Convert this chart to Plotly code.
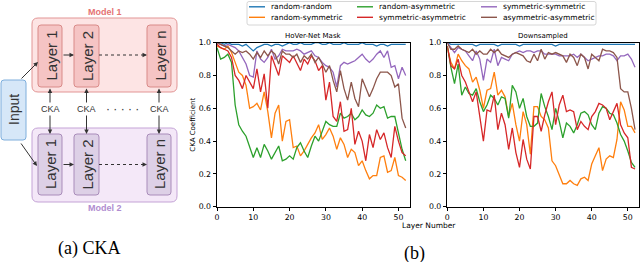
import plotly.graph_objects as go

W, H = 640, 262

# ---------------- data ----------------
layers = list(range(53))
x_ticks = [0, 10, 20, 30, 40, 50]
y_ticks = [0.0, 0.2, 0.4, 0.6, 0.8, 1.0]
series_names = ["random-random", "random-symmetric", "random-asymmetric",
                "symmetric-asymmetric", "symmetric-symmetric", "asymmetric-asymmetric"]
series_colors = ["#1f77b4", "#ff7f0e", "#2ca02c", "#d62728", "#9467bd", "#8c564b"]
panel_titles = ["HoVer-Net Mask", "Downsampled"]

# HoVer-Net Mask panel
mask_random_random = [1.0, 1.0, 0.99, 1.0, 0.99, 0.99, 0.99, 0.98, 0.99, 0.97, 0.95, 0.97, 0.98, 0.99,
                      0.99, 0.98, 0.99, 0.99, 0.98, 0.99, 1.0, 0.99, 0.99, 1.0, 0.99, 0.99, 0.99, 1.0,
                      1.0, 0.99, 0.99, 1.0, 0.99, 0.99, 0.99, 1.0, 0.99, 0.99, 0.99, 0.99, 1.0, 0.99,
                      0.99, 0.99, 0.98, 0.99, 0.99, 0.98, 0.99, 0.99, 0.99, 0.99, 0.99]
mask_random_symmetric = [0.98, 0.97, 0.96, 0.98, 0.94, 0.88, 0.82, 0.80, 0.74, 0.60, 0.61, 0.63, 0.59,
                         0.70, 0.58, 0.42, 0.57, 0.62, 0.40, 0.52, 0.53, 0.36, 0.37, 0.31, 0.34, 0.38,
                         0.42, 0.45, 0.50, 0.41, 0.44, 0.48, 0.43, 0.35, 0.42, 0.38, 0.30, 0.35, 0.33,
                         0.25, 0.28, 0.22, 0.17, 0.19, 0.19, 0.30, 0.31, 0.21, 0.22, 0.30, 0.19, 0.18, 0.16]
mask_random_asymmetric = [0.97, 0.90, 0.91, 0.93, 0.88, 0.62, 0.50, 0.46, 0.43, 0.37, 0.30, 0.36, 0.30,
                          0.38, 0.34, 0.29, 0.33, 0.37, 0.28, 0.29, 0.31, 0.29, 0.36, 0.39, 0.34, 0.30,
                          0.37, 0.43, 0.40, 0.46, 0.52, 0.50, 0.49, 0.49, 0.57, 0.54, 0.55, 0.57, 0.53,
                          0.55, 0.59, 0.56, 0.55, 0.57, 0.62, 0.60, 0.61, 0.54, 0.55, 0.55, 0.44, 0.35, 0.28]
mask_symmetric_asymmetric = [0.99, 0.97, 0.96, 0.95, 0.91, 0.80, 0.77, 0.72, 0.80, 0.76, 0.72, 0.84, 0.70,
                             0.81, 0.60, 0.92, 0.86, 0.80, 0.92, 0.90, 0.88, 0.92, 0.87, 0.83, 0.90, 0.87,
                             0.92, 0.89, 0.83, 0.86, 0.65, 0.76, 0.55, 0.52, 0.64, 0.46, 0.47, 0.60, 0.38,
                             0.46, 0.40, 0.28, 0.44, 0.36, 0.47, 0.41, 0.45, 0.36, 0.30, 0.49, 0.40, 0.33, 0.31]
mask_symmetric_symmetric = [1.0, 0.99, 0.98, 0.99, 0.98, 0.97, 0.95, 0.91, 0.87, 0.80, 0.79, 0.95, 0.90,
                            0.88, 0.91, 0.96, 0.90, 0.92, 0.96, 0.95, 0.95, 0.95, 0.96, 0.95, 0.93, 0.94,
                            0.95, 0.92, 0.91, 0.88, 0.86, 0.85, 0.82, 0.73, 0.86, 0.88, 0.87, 0.88, 0.89,
                            0.91, 0.93, 0.90, 0.88, 0.90, 0.93, 0.95, 0.91, 0.95, 0.85, 0.86, 0.78, 0.85, 0.80]
mask_asymmetric_asymmetric = [1.0, 0.99, 0.98, 0.97, 0.95, 0.93, 0.95, 0.94, 0.95, 0.93, 0.90, 0.94, 0.91,
                              0.95, 0.92, 0.95, 0.93, 0.87, 0.95, 0.93, 0.93, 0.91, 0.93, 0.88, 0.92, 0.90,
                              0.93, 0.88, 0.91, 0.87, 0.82, 0.86, 0.77, 0.70, 0.83, 0.72, 0.65, 0.76, 0.66,
                              0.61, 0.78, 0.73, 0.67, 0.72, 0.78, 0.82, 0.82, 0.82, 0.80, 0.73, 0.75, 0.54, 0.48]

# Downsampled panel
down_random_random = [1.0, 0.99, 0.99, 0.99, 0.99, 0.99, 0.99, 0.99, 0.98, 0.99, 0.99, 0.99, 0.99, 0.99,
                      0.98, 0.99, 0.99, 0.99, 0.99, 0.99, 0.98, 0.99, 0.99, 0.99, 0.99, 0.99, 0.99, 0.99,
                      0.99, 0.99, 0.98, 0.99, 0.99, 0.99, 0.99, 0.99, 0.99, 0.99, 0.99, 0.99, 0.99, 0.99,
                      0.99, 0.99, 0.99, 0.99, 0.99, 0.99, 0.99, 0.99, 0.99, 0.99, 0.99]
down_random_symmetric = [0.97, 0.88, 0.84, 0.93, 0.89, 0.86, 0.84, 0.76, 0.79, 0.71, 0.60, 0.71, 0.72,
                         0.82, 0.68, 0.71, 0.67, 0.55, 0.63, 0.50, 0.40, 0.58, 0.50, 0.32, 0.61, 0.61,
                         0.55, 0.53, 0.48, 0.28, 0.25, 0.20, 0.14, 0.14, 0.16, 0.14, 0.13, 0.17, 0.18,
                         0.16, 0.26, 0.31, 0.36, 0.22, 0.29, 0.31, 0.30, 0.41, 0.64, 0.59, 0.49, 0.49, 0.45]
down_random_asymmetric = [0.98, 0.85, 0.75, 0.87, 0.68, 0.73, 0.69, 0.68, 0.72, 0.64, 0.58, 0.62, 0.68,
                          0.66, 0.62, 0.67, 0.66, 0.54, 0.74, 0.70, 0.60, 0.66, 0.55, 0.49, 0.49, 0.51,
                          0.69, 0.61, 0.55, 0.47, 0.60, 0.52, 0.42, 0.51, 0.49, 0.45, 0.50, 0.57, 0.58,
                          0.56, 0.50, 0.47, 0.57, 0.61, 0.60, 0.57, 0.56, 0.51, 0.44, 0.40, 0.34, 0.27, 0.24]
down_symmetric_asymmetric = [0.98, 0.86, 0.84, 0.90, 0.80, 0.76, 0.70, 0.64, 0.70, 0.55, 0.40, 0.59, 0.58,
                             0.68, 0.47, 0.57, 0.50, 0.35, 0.48, 0.33, 0.24, 0.41, 0.29, 0.23, 0.55, 0.55,
                             0.46, 0.56, 0.64, 0.70, 0.50, 0.62, 0.68, 0.58, 0.59, 0.58, 0.47, 0.52, 0.49,
                             0.47, 0.55, 0.58, 0.63, 0.62, 0.60, 0.53, 0.58, 0.63, 0.50, 0.45, 0.42, 0.24, 0.23]
down_symmetric_symmetric = [1.0, 0.97, 0.94, 0.97, 0.96, 0.95, 0.92, 0.89, 0.95, 0.90, 0.77, 0.90, 0.88,
                            0.96, 0.86, 0.91, 0.90, 0.89, 0.93, 0.94, 0.95, 0.94, 0.95, 0.95, 0.94, 0.95,
                            0.95, 0.93, 0.93, 0.93, 0.93, 0.92, 0.92, 0.92, 0.92, 0.93, 0.91, 0.93, 0.91,
                            0.89, 0.90, 0.91, 0.92, 0.92, 0.93, 0.93, 0.92, 0.89, 0.92, 0.92, 0.93, 0.90, 0.85]
down_asymmetric_asymmetric = [1.0, 0.96, 0.96, 0.98, 0.96, 0.95, 0.94, 0.96, 0.93, 0.95, 0.93, 0.93, 0.96,
                              0.94, 0.96, 0.93, 0.92, 0.91, 0.93, 0.94, 0.93, 0.92, 0.89, 0.88, 0.93, 0.89,
                              0.96, 0.90, 0.94, 0.93, 0.94, 0.93, 0.92, 0.88, 0.93, 0.91, 0.86, 0.93, 0.91,
                              0.84, 0.93, 0.91, 0.89, 0.96, 0.95, 0.95, 0.94, 0.91, 0.72, 0.70, 0.70, 0.60, 0.47]

mask_series = [mask_random_random, mask_random_symmetric, mask_random_asymmetric,
               mask_symmetric_asymmetric, mask_symmetric_symmetric, mask_asymmetric_asymmetric]
down_series = [down_random_random, down_random_symmetric, down_random_asymmetric,
               down_symmetric_asymmetric, down_symmetric_symmetric, down_asymmetric_asymmetric]

# diagram labels
model_labels = ["Model 1", "Model 2"]
layer_labels = ["Layer 1", "Layer 2", "Layer n"]
input_label = "Input"
cka_label = "CKA"
captions = ["(a) CKA", "(b)"]

# ---------------- helpers (pixel -> paper) ----------------
def X(px):
    return px / W

def Y(py):
    return 1 - py / H

def rrect(x0, y0, x1, y1, r, fill, line, lw=1.0):
    p = (f"M {X(x0 + r)},{Y(y0)} L {X(x1 - r)},{Y(y0)} Q {X(x1)},{Y(y0)} {X(x1)},{Y(y0 + r)} "
         f"L {X(x1)},{Y(y1 - r)} Q {X(x1)},{Y(y1)} {X(x1 - r)},{Y(y1)} "
         f"L {X(x0 + r)},{Y(y1)} Q {X(x0)},{Y(y1)} {X(x0)},{Y(y1 - r)} "
         f"L {X(x0)},{Y(y0 + r)} Q {X(x0)},{Y(y0)} {X(x0 + r)},{Y(y0)} Z")
    return dict(type="path", xref="paper", yref="paper", path=p, fillcolor=fill,
                line=dict(color=line, width=lw), layer="above")

def label(px, py, text, font, angle=0, xanchor="center", **kw):
    d = dict(x=X(px), y=Y(py), xref="paper", yref="paper", text=text, showarrow=False,
             xanchor=xanchor, yanchor="middle", textangle=angle, font=font)
    d.update(kw)
    return d

fig = go.Figure()

for si in range(6):
    fig.add_trace(go.Scatter(x=layers, y=mask_series[si], mode="lines", name=series_names[si],
                             line=dict(color=series_colors[si], width=1.3), showlegend=False,
                             xaxis="x", yaxis="y"))
for si in range(6):
    fig.add_trace(go.Scatter(x=layers, y=down_series[si], mode="lines", name=series_names[si],
                             line=dict(color=series_colors[si], width=1.3), showlegend=False,
                             xaxis="x2", yaxis="y2"))

tickfont = dict(family="DejaVu Sans", size=7.8, color="black")
axis_common = dict(showline=True, mirror=True, linecolor="black", linewidth=0.8, ticks="outside",
                   ticklen=3.5, tickwidth=0.8, tickcolor="black", showgrid=False, zeroline=False,
                   tickfont=tickfont, automargin=False)
ydom = [Y(206.7), Y(42.7)]
fig.update_layout(
    width=W, height=H, margin=dict(l=0, r=0, t=0, b=0),
    paper_bgcolor="white", plot_bgcolor="white",
    xaxis=dict(domain=[X(217), X(409.7)], range=[0, 53.1], tickvals=x_ticks, **axis_common),
    yaxis=dict(domain=ydom, range=[0, 1.0], tickvals=y_ticks, tickformat=".1f", **axis_common),
    xaxis2=dict(domain=[X(447.3), X(639)], range=[0, 53.1], tickvals=x_ticks, anchor="y2", **axis_common),
    yaxis2=dict(domain=ydom, range=[0, 1.0], tickvals=y_ticks, tickformat=".1f", anchor="x2", **axis_common),
)

shapes = []
ann = []
txt = dict(family="DejaVu Sans", size=7.5, color="black")
small = dict(family="DejaVu Sans", size=7, color="black")

# panel titles and axis labels
ann.append(label(313.5, 36, panel_titles[0], small))
ann.append(label(543, 36, panel_titles[1], small))
ann.append(label(428.5, 225, "Layer Number", txt))
ann.append(label(193, 124.7, "CKA Coefficient", small, angle=-90))

# manual legend (matplotlib style, 3 columns)
shapes.append(rrect(247, 1.5, 596, 25, 2, "white", "#cccccc", 0.8))
col_line_x = [(249, 265), (357, 373), (481, 497)]
col_text_x = [269, 377, 501]
row_y = [6.8, 17.3]
for si in range(6):
    c, r = si // 2, si % 2
    shapes.append(dict(type="line", xref="paper", yref="paper", x0=X(col_line_x[c][0]), x1=X(col_line_x[c][1]),
                       y0=Y(row_y[r]), y1=Y(row_y[r]), line=dict(color=series_colors[si], width=1.4)))
    ann.append(label(col_text_x[c], row_y[r], series_names[si], txt, xanchor="left"))

# ---------------- diagram (a) ----------------
dfont = "Liberation Sans"
shapes.append(rrect(32, 18, 177, 92, 6, "#fde4e4", "#e29595", 1))
shapes.append(rrect(32, 128, 177, 202, 6, "#f4e8f8", "#c4a3d6", 1))
layer_x = [(38, 62), (74, 99), (147, 171)]
lfont = dict(family=dfont, size=15, color="#333333")
for (a, b), lab in zip(layer_x, layer_labels):
    shapes.append(rrect(a, 25, b, 87, 3, "#f5c4c4", "#d98a88", 1))
    shapes.append(rrect(a, 134, b, 195, 3, "#ddd0e6", "#a98cba", 1))
    for yc in (56, 164.5):
        ann.append(label((a + b) / 2 + 0.5, yc, lab, lfont, angle=-90))
shapes.append(rrect(1, 80, 26, 140, 3, "#d6e7f8", "#7eaedc", 1))
ann.append(label(14, 110, input_label, dict(family=dfont, size=14, color="#333333"), angle=-90))
ann.append(label(105, 12, "<b>" + model_labels[0] + "</b>", dict(family=dfont, size=9, color="#e57373")))
ann.append(label(105, 208, "<b>" + model_labels[1] + "</b>", dict(family=dfont, size=9, color="#b08cd0")))

arrow_col = "#333333"
def arrow(x0, y0, x1, y1, both=False):
    ann.append(dict(x=X(x1), y=Y(y1), ax=x0 - x1, ay=y0 - y1, xref="paper", yref="paper",
                    axref="pixel", ayref="pixel", text="", showarrow=True, arrowhead=2,
                    arrowsize=0.9, arrowwidth=1, arrowcolor=arrow_col, standoff=0, startstandoff=0,
                    arrowside="end+start" if both else "end", startarrowhead=2, startarrowsize=0.9))

arrow(20, 80, 38, 62)
arrow(20, 142, 37, 166)
arrow(62, 55, 74, 55)
arrow(62, 164.5, 74, 164.5)
for yy in (55, 164.5):
    shapes.append(dict(type="line", xref="paper", yref="paper", x0=X(99), x1=X(144), y0=Y(yy), y1=Y(yy),
                       line=dict(color=arrow_col, width=1, dash="dot")))
    arrow(143, yy, 147, yy)
for (a, b) in layer_x:
    xc = (a + b) / 2
    arrow(xc, 87, xc, 134, both=True)
    ann.append(label(xc, 108.5, cka_label, dict(family=dfont, size=9, color="#333333"),
                     bgcolor="white", borderpad=1))
ann.append(label(122, 109, "· · · · ·", dict(family=dfont, size=12, color="#333333")))

ann.append(label(88.5, 248, captions[0], dict(family="Liberation Serif", size=18, color="black")))
ann.append(label(414.5, 253, captions[1], dict(family="Liberation Serif", size=18, color="black")))

fig.update_layout(shapes=shapes, annotations=ann)
fig.write_html("out.html", config={"displayModeBar": False},
               post_script="document.body.style.margin='0';document.body.style.padding='0';")
